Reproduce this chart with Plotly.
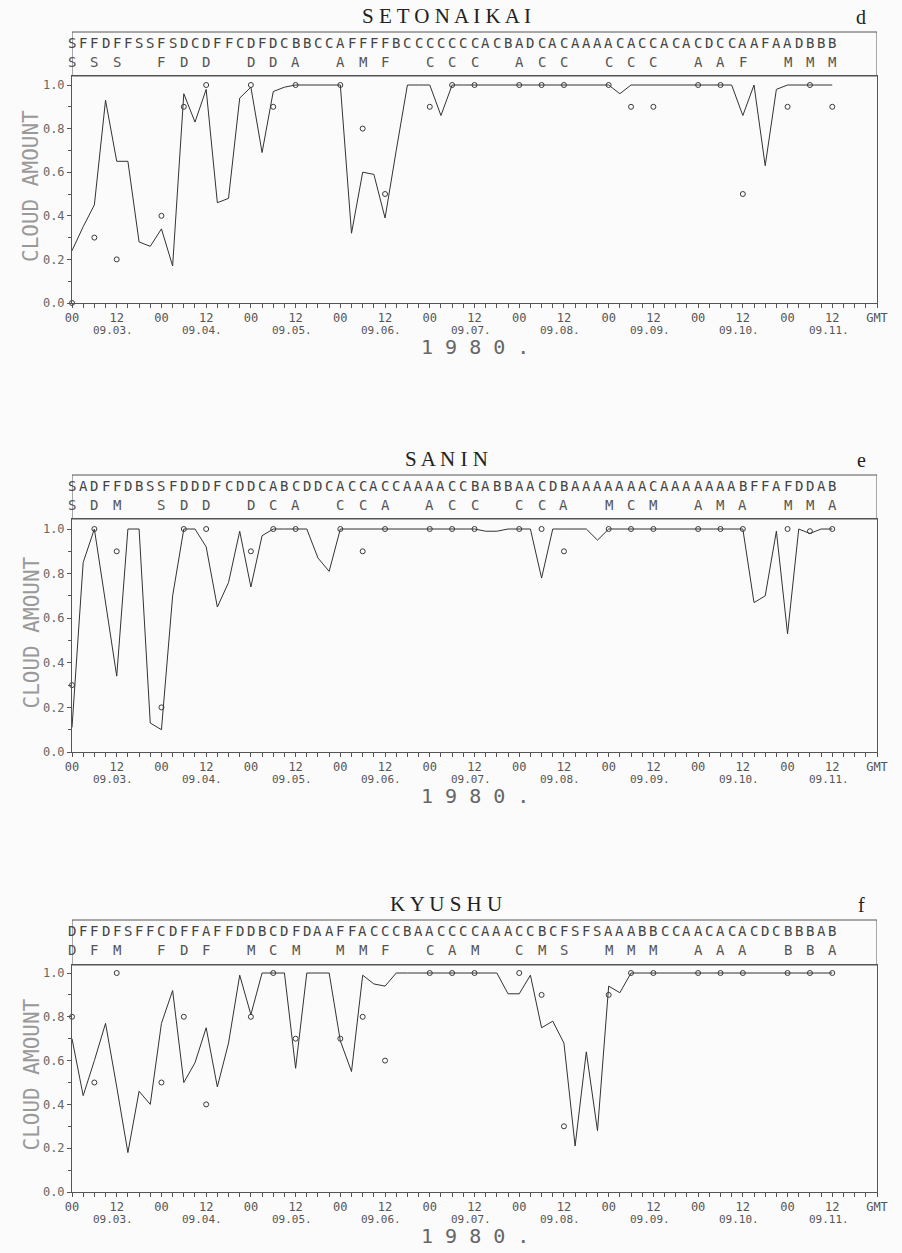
import plotly.graph_objects as go

# ---------------- data ----------------
# 3-hourly line values, 09.03 00 GMT .. 09.11 12 GMT (69 points)
hours = [3 * k for k in range(69)]
# circle observations at 00, 06, 12 GMT each day (27 points)
circle_hours = [24 * d + h for d in range(9) for h in (0, 6, 12)]

day_labels = ["09.03.", "09.04.", "09.05.", "09.06.", "09.07.", "09.08.", "09.09.", "09.10.", "09.11."]
tick_hours = list(range(0, 217, 12))
tick_text = ["00" if (h // 12) % 2 == 0 else "12" for h in tick_hours[:-1]] + ["GMT"]

seto_row1 = "SFFDFFSSFSDCDFFCDFDCBBCCAFFFFBCCCCCCCACBADCACAAAACACCACACDCCAAFAADBBB"
seto_row2 = "SSSFDDDDAAMFCCCACCCCCAAFMMM"
seto_line = [0.24, 0.35, 0.45, 0.93, 0.65, 0.65, 0.28, 0.26, 0.34, 0.17,
             0.96, 0.83, 0.98, 0.46, 0.48, 0.94, 0.99, 0.69, 0.97, 0.99,
             1.0, 1.0, 1.0, 1.0, 1.0, 0.32, 0.60, 0.59, 0.39, 0.70,
             1.0, 1.0, 1.0, 0.86, 1.0, 1.0, 1.0, 1.0, 1.0, 1.0,
             1.0, 1.0, 1.0, 1.0, 1.0, 1.0, 1.0, 1.0, 1.0, 0.96,
             1.0, 1.0, 1.0, 1.0, 1.0, 1.0, 1.0, 1.0, 1.0, 1.0,
             0.86, 1.0, 0.63, 0.98, 1.0, 1.0, 1.0, 1.0, 1.0]
seto_circ = [0.0, 0.3, 0.2, 0.4, 0.9, 1.0, 1.0, 0.9, 1.0,
             1.0, 0.8, 0.5, 0.9, 1.0, 1.0, 1.0, 1.0, 1.0,
             1.0, 0.9, 0.9, 1.0, 1.0, 0.5, 0.9, 1.0, 0.9]

sanin_row1 = "SADFFDBSSFDDDFCDDCABCDDCACCACCAAAACCBABBAACDBAAAAAAACAAAAAAABFFAFDDAB"
sanin_row2 = "SDMSDDDCACCAACCCCAMCMAMAMMA"
sanin_line = [0.11, 0.85, 1.0, 0.67, 0.34, 1.0, 1.0, 0.13, 0.10, 0.70,
              1.0, 1.0, 0.92, 0.65, 0.76, 0.99, 0.74, 0.97, 1.0, 1.0,
              1.0, 1.0, 0.87, 0.81, 1.0, 1.0, 1.0, 1.0, 1.0, 1.0,
              1.0, 1.0, 1.0, 1.0, 1.0, 1.0, 1.0, 0.99, 0.99, 1.0,
              1.0, 1.0, 0.78, 1.0, 1.0, 1.0, 1.0, 0.95, 1.0, 1.0,
              1.0, 1.0, 1.0, 1.0, 1.0, 1.0, 1.0, 1.0, 1.0, 1.0,
              1.0, 0.67, 0.70, 0.99, 0.53, 1.0, 0.98, 1.0, 1.0]
sanin_circ = [0.3, 1.0, 0.9, 0.2, 1.0, 1.0, 0.9, 1.0, 1.0,
              1.0, 0.9, 1.0, 1.0, 1.0, 1.0, 1.0, 1.0, 0.9,
              1.0, 1.0, 1.0, 1.0, 1.0, 1.0, 1.0, 0.99, 1.0]

kyu_row1 = "DFFDFSFFCDFFAFFDDBCDFDAAFFACCCBAACCCCAAACCBCFSFSAAABBCCAACACACDCBBBAB"
kyu_row2 = "DFMFDFMCMMMFCAMCMSMMMAAABBA"
kyu_line = [0.70, 0.44, 0.60, 0.77, 0.48, 0.18, 0.46, 0.40, 0.77, 0.92,
            0.50, 0.59, 0.75, 0.48, 0.68, 0.99, 0.81, 1.0, 1.0, 1.0,
            0.565, 1.0, 1.0, 1.0, 0.69, 0.55, 0.99, 0.95, 0.94, 1.0,
            1.0, 1.0, 1.0, 1.0, 1.0, 1.0, 1.0, 1.0, 1.0, 0.905,
            0.905, 0.99, 0.75, 0.78, 0.68, 0.21, 0.64, 0.28, 0.94, 0.91,
            1.0, 1.0, 1.0, 1.0, 1.0, 1.0, 1.0, 1.0, 1.0, 1.0,
            1.0, 1.0, 1.0, 1.0, 1.0, 1.0, 1.0, 1.0, 1.0]
kyu_circ = [0.8, 0.5, 1.0, 0.5, 0.8, 0.4, 0.8, 1.0, 0.7,
            0.7, 0.8, 0.6, 1.0, 1.0, 1.0, 1.0, 0.9, 0.3,
            0.9, 1.0, 1.0, 1.0, 1.0, 1.0, 1.0, 1.0, 1.0]

# ---------------- layout helpers ----------------
FW, FH = 902, 1253
X_LEFT, X_RIGHT = 72, 877
MONO = "DejaVu Sans Mono"
SERIF = "Liberation Serif"
BG = "#fbfbfb"

panels = [
    dict(title="S E T O N A I K A I", tag="d", row1=seto_row1, row2=seto_row2,
         line=seto_line, circ=seto_circ, box_top=32, plot_top=76, one=85, zero=303),
    dict(title="S A N I N", tag="e", row1=sanin_row1, row2=sanin_row2,
         line=sanin_line, circ=sanin_circ, box_top=475, plot_top=519, one=529, zero=752),
    dict(title="K Y U S H U", tag="f", row1=kyu_row1, row2=kyu_row2,
         line=kyu_line, circ=kyu_circ, box_top=920, plot_top=965, one=973, zero=1192),
]


def fx(px):
    return px / FW


def fy(px):
    return 1 - px / FH


fig = go.Figure()
annotations = []
shapes = []


def note(**kw):
    kw.setdefault("showarrow", False)
    kw.setdefault("xanchor", "center")
    kw.setdefault("yanchor", "middle")
    annotations.append(kw)


for i, p in enumerate(panels):
    n = i + 1
    xa = "x" if n == 1 else f"x{n}"
    ya = "y" if n == 1 else f"y{n}"
    ytop = (p["zero"] - p["plot_top"]) / (p["zero"] - p["one"])

    fig.add_trace(go.Scatter(x=hours, y=p["line"], mode="lines",
                             line=dict(color="#333333", width=1),
                             xaxis=xa, yaxis=ya, showlegend=False, hoverinfo="skip"))
    fig.add_trace(go.Scatter(x=circle_hours, y=p["circ"], mode="markers",
                             marker=dict(symbol="circle-open", size=5, color="#3a3a3a",
                                         line=dict(width=1)),
                             cliponaxis=False,
                             xaxis=xa, yaxis=ya, showlegend=False, hoverinfo="skip"))

    xkey = "xaxis" if n == 1 else f"xaxis{n}"
    ykey = "yaxis" if n == 1 else f"yaxis{n}"
    fig.update_layout(**{
        xkey: dict(domain=[fx(X_LEFT), fx(X_RIGHT)], anchor=ya, range=[0, 216],
                   automargin=False, fixedrange=True,
                   tickmode="array", tickvals=tick_hours, ticktext=tick_text,
                   ticks="outside", ticklen=4, tickwidth=1, tickcolor="#555",
                   minor=dict(dtick=3, tick0=0, ticks="outside", ticklen=4, tickcolor="#555"),
                   showgrid=False, zeroline=False, showline=True, linecolor="#555",
                   linewidth=1, mirror=True,
                   tickfont=dict(family=MONO, size=12, color="#555")),
        ykey: dict(domain=[fy(p["zero"]), fy(p["plot_top"])], anchor=xa,
                   range=[0, ytop], automargin=False, fixedrange=True,
                   tickmode="array", tickvals=[0, 0.2, 0.4, 0.6, 0.8, 1.0],
                   ticktext=["0.0", "0.2", "0.4", "0.6", "0.8", "1.0"],
                   ticks="outside", ticklen=4, tickwidth=1, tickcolor="#555",
                   minor=dict(dtick=0.1, tick0=0, ticks="outside", ticklen=3, tickcolor="#555"),
                   showgrid=False, zeroline=False, showline=True, linecolor="#555",
                   linewidth=1, mirror=True,
                   tickfont=dict(family=MONO, size=12, color="#666")),
    })

    # letter box above plot
    shapes.append(dict(type="rect", xref=xa, yref="paper", x0=0, x1=216,
                       y0=fy(p["plot_top"]), y1=fy(p["box_top"]),
                       line=dict(color="#555", width=1), fillcolor="rgba(0,0,0,0)"))
    for k, ch in enumerate(p["row1"]):
        note(x=hours[k], xref=xa, y=fy(p["box_top"] + 11), yref="paper", text=ch,
             font=dict(family=MONO, size=14, color="#444"))
    for k, ch in enumerate(p["row2"]):
        note(x=circle_hours[k], xref=xa, y=fy(p["box_top"] + 30), yref="paper", text=ch,
             font=dict(family=MONO, size=14, color="#555"))

    # titles
    note(x=fx(446), y=fy(p["box_top"] - 16), xref="paper", yref="paper", text=p["title"],
         font=dict(family=SERIF, size=21, color="#222"))
    note(x=fx(861), y=fy(p["box_top"] - 15), xref="paper", yref="paper", text=p["tag"],
         font=dict(family=SERIF, size=20, color="#222"))

    # y-axis title
    note(x=fx(31), y=fy((p["one"] + p["zero"]) / 2 - 8), xref="paper", yref="paper",
         text="CLOUD AMOUNT", textangle=-90,
         font=dict(family=MONO, size=21, color="#999"))

    # date labels and year
    for d, lab in enumerate(day_labels):
        note(x=24 * d + 11, xref=xa, y=fy(p["zero"] + 27), yref="paper", text=lab,
             font=dict(family=MONO, size=11, color="#555"))
    note(x=108, xref=xa, y=fy(p["zero"] + 44), yref="paper", text="1 9 8 0 .",
         font=dict(family=MONO, size=20, color="#666"))

fig.update_layout(template="none", width=FW, height=FH,
                  margin=dict(l=0, r=0, t=0, b=0, pad=0),
                  paper_bgcolor=BG, plot_bgcolor=BG,
                  annotations=annotations, shapes=shapes, showlegend=False)

fig.write_html("out.html",
               config={"displayModeBar": False, "staticPlot": True},
               post_script="document.body.style.margin='0';document.body.style.background='#fbfbfb';")
